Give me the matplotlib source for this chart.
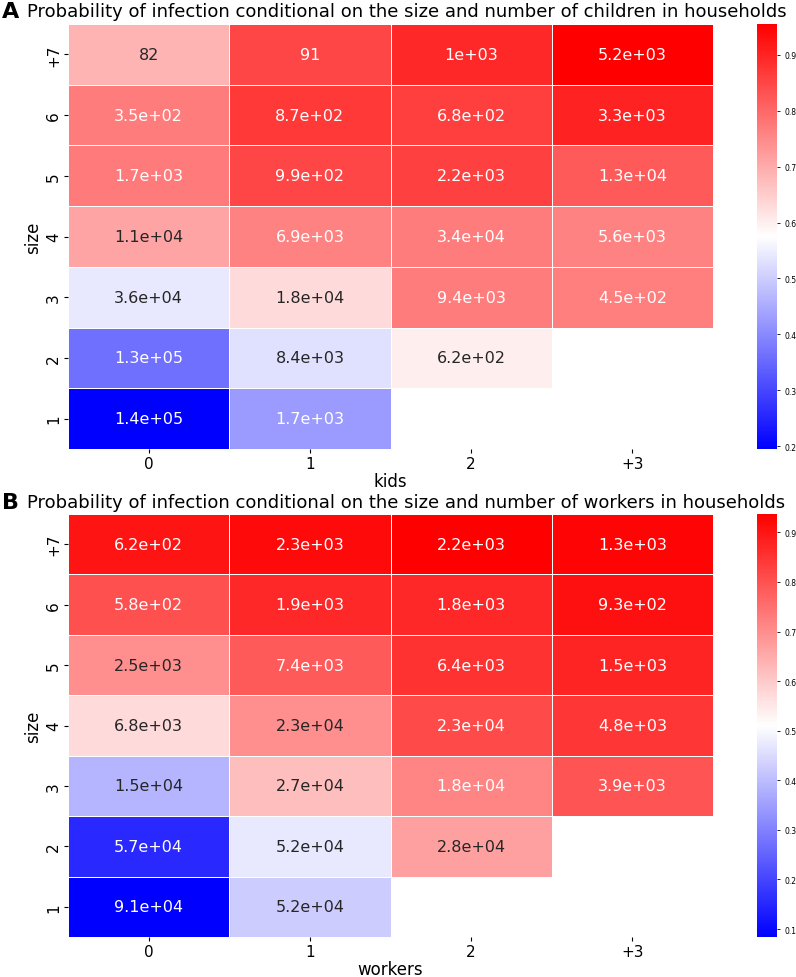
import numpy as np
import matplotlib
matplotlib.use('Agg')
import matplotlib.pyplot as plt
import seaborn as sns

nan = np.nan

size_labels = ['+7', '6', '5', '4', '3', '2', '1']
kids_labels = ['0', '1', '2', '+3']
workers_labels = ['0', '1', '2', '+3']

# probability of infection (colour), rows from size +7 down to 1
kids_prob = [
    [0.685, 0.849, 0.894, 0.955],
    [0.769, 0.871, 0.862, 0.902],
    [0.773, 0.849, 0.858, 0.819],
    [0.709, 0.761, 0.769, 0.761],
    [0.541, 0.630, 0.769, 0.765],
    [0.362, 0.530, 0.600, nan],
    [0.195, 0.426, nan, nan],
]
# number of households (annotation)
kids_counts = [
    [82, 91, 1000, 5200],
    [350, 870, 680, 3300],
    [1700, 990, 2200, 13000],
    [11000, 6900, 34000, 5600],
    [36000, 18000, 9400, 450],
    [130000, 8400, 620, nan],
    [140000, 1700, nan, nan],
]

workers_prob = [
    [0.903, 0.920, 0.937, 0.930],
    [0.803, 0.869, 0.869, 0.910],
    [0.700, 0.784, 0.853, 0.876],
    [0.573, 0.700, 0.812, 0.845],
    [0.385, 0.619, 0.715, 0.795],
    [0.151, 0.472, 0.669, nan],
    [0.084, 0.425, nan, nan],
]
workers_counts = [
    [620, 2300, 2200, 1300],
    [580, 1900, 1800, 930],
    [2500, 7400, 6400, 1500],
    [6800, 23000, 23000, 4800],
    [15000, 27000, 18000, 3900],
    [57000, 52000, 28000, nan],
    [91000, 52000, nan, nan],
]

W, H = 796, 978


def px_rect(left, top, right, bottom):
    return [left / W, 1 - bottom / H, (right - left) / W, (bottom - top) / H]


def draw_panel(fig, ax_rect, cax_rect, prob, counts, xlabels, xlabel, letter, title, title_y):
    ax = fig.add_axes(px_rect(*ax_rect))
    cax = fig.add_axes(px_rect(*cax_rect))
    sns.heatmap(np.array(prob, dtype=float), ax=ax, cbar_ax=cax, cmap='bwr',
                annot=np.array(counts, dtype=float), fmt='.2g',
                annot_kws={'size': 11.5}, linewidths=0.5, linecolor='white',
                xticklabels=xlabels, yticklabels=size_labels)
    ax.set_xlabel(xlabel, fontsize=12, labelpad=1)
    ax.set_ylabel('size', fontsize=12, labelpad=3)
    ax.tick_params(axis='both', labelsize=11, pad=2, length=3)
    plt.setp(ax.get_yticklabels(), rotation=90, va='center')
    plt.setp(ax.get_xticklabels(), rotation=0)
    cax.tick_params(labelsize=5.5, length=2, width=0.6)
    fig.text(2 / W, 1 - title_y / H, letter, fontsize=16, fontweight='bold', va='center', ha='left')
    fig.text(27 / W, 1 - title_y / H, title, fontsize=13, va='center', ha='left')
    return ax


fig = plt.figure(figsize=(W / 100, H / 100), dpi=100)

draw_panel(fig, (68, 25, 713, 450), (757, 25, 777, 450),
           kids_prob, kids_counts, kids_labels, 'kids', 'A',
           'Probability of infection conditional on the size and number of children in households', 12)

draw_panel(fig, (68, 515, 713, 938), (757, 515, 777, 938),
           workers_prob, workers_counts, workers_labels, 'workers', 'B',
           'Probability of infection conditional on the size and number of workers in households', 503)

fig.savefig('out.png', dpi=100)
